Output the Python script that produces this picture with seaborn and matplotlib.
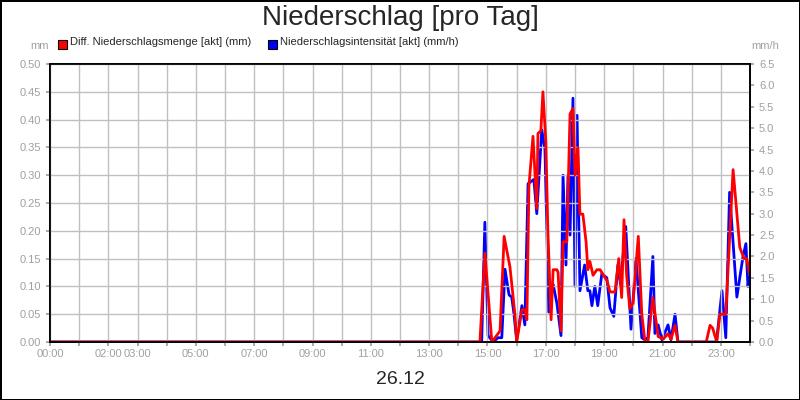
import matplotlib
matplotlib.use("Agg")
import matplotlib.pyplot as plt
import seaborn as sns
import pandas as pd

sns.set_theme(style="white")
plt.rcParams['font.family'] = ['Liberation Sans', 'DejaVu Sans']

red_t = [0, 14.74, 14.91, 15.15, 15.43, 15.57, 15.77, 15.94, 16.0, 16.18, 16.28, 16.35, 16.42, 16.56, 16.69, 16.73,
         16.83, 16.9, 17.0, 17.07, 17.18, 17.25, 17.38, 17.42, 17.52, 17.59, 17.72, 17.83, 17.93, 18.0, 18.1, 18.17,
         18.27, 18.38, 18.44, 18.51, 18.62, 18.75, 18.86, 19.1, 19.2, 19.37, 19.5, 19.6, 19.68, 19.77, 19.88,
         19.99, 20.17, 20.29, 20.4, 20.5, 20.67, 20.85, 21.02, 21.19, 21.29, 21.43, 21.53, 22.5, 22.63, 22.72,
         22.86, 22.97, 23.08, 23.17, 23.42, 23.65, 23.8, 23.89, 23.97]
red_v = [0, 0, 0.16, 0, 0.02, 0.19, 0.135, 0.05, 0.0, 0.058, 0.058, 0.04, 0.28, 0.37, 0.24, 0.375,
         0.38, 0.45, 0.36, 0.2, 0.04, 0.13, 0.13, 0.125, 0.02, 0.18, 0.18, 0.41, 0.42, 0.3, 0.35, 0.23,
         0.23, 0.18, 0.13, 0.145, 0.12, 0.13, 0.13, 0.11, 0.09, 0.09, 0.15, 0.08, 0.22, 0.12, 0.06,
         0.07, 0.19, 0.05, 0.0, 0.0, 0.08, 0.01, 0.005, 0.015, 0.005, 0.03, 0.0, 0.0, 0.03, 0.025,
         0.0, 0.05, 0.05, 0.05, 0.31, 0.17, 0.15, 0.15, 0.125]

blue_t = [0, 14.8, 14.91, 15.02, 15.19, 15.36, 15.49, 15.6, 15.74, 15.83, 15.9, 16.0, 16.18, 16.28, 16.39, 16.59,
          16.69, 16.86, 16.97, 17.1, 17.25, 17.38, 17.52, 17.59, 17.69, 17.76, 17.83, 17.93, 18.0, 18.07, 18.17,
          18.33, 18.44, 18.51, 18.58, 18.68, 18.78, 18.92, 19.09, 19.2, 19.33, 19.47, 19.56, 19.74, 19.92, 20.09,
          20.29, 20.4, 20.5, 20.67, 20.74, 20.85, 20.98, 21.19, 21.29, 21.43, 21.53, 22.85, 23.04, 23.17, 23.3,
          23.55, 23.76, 23.86, 23.93, 23.97]
blue_v = [0, 0, 2.8, 0.15, 0, 0.1, 0.1, 1.7, 1.1, 1.05, 0.7, 0.05, 0.85, 0.4, 3.7, 3.8,
          3.0, 4.96, 4.5, 0.7, 1.35, 0.9, 0.15, 3.9, 1.8, 3.9, 2.5, 5.7, 1.3, 5.3, 1.2,
          1.8, 1.2, 1.2, 0.85, 1.3, 0.85, 1.6, 1.5, 0.8, 0.6, 1.8, 1.35, 2.7, 0.3, 1.95,
          0.1, 0.05, 0.1, 2.0, 0.2, 0.4, 0.05, 0.4, 0.05, 0.65, 0.0, 0.0, 1.2, 0.1, 3.5,
          1.05, 2.0, 2.3, 1.3, 1.5]

tick_hours = [0, 2, 3, 5, 7, 9, 11, 13, 15, 17, 19, 21, 23]
tick_labels = ["00:00", "02:00", "03:00", "05:00", "07:00", "09:00", "11:00", "13:00",
               "15:00", "17:00", "19:00", "21:00", "23:00"]

red = pd.DataFrame({"t": red_t, "v": red_v})
blue = pd.DataFrame({"t": blue_t, "v": blue_v})

fig = plt.figure(figsize=(8, 4), dpi=100)
fig.patch.set_edgecolor("black")
fig.patch.set_linewidth(2)
ax = fig.add_axes([50/800, 58/400, 700/800, 278/400])
ax2 = ax.twinx()

sns.lineplot(data=blue, x="t", y="v", ax=ax2, color="#0000ff", lw=2)
sns.lineplot(data=red, x="t", y="v", ax=ax, color="#ff0000", lw=2)
ax.set_zorder(ax2.get_zorder() + 1)
ax.patch.set_visible(False)

ax.set_xlim(0, 24)
ax.set_ylim(0, 0.5)
ax2.set_ylim(0, 6.5)
ax.set_xticks(range(0, 25))
ax.set_xticklabels([""] * 25)
for h, l in zip(tick_hours, tick_labels):
    ax.text(h, -0.012, l, ha="center", va="top", fontsize=8, color="#a0a0a0",
            transform=ax.get_xaxis_transform() if False else ax.transData)
ax.set_yticks([i * 0.05 for i in range(11)])
ax.set_yticklabels([f"{i*0.05:.2f}" for i in range(11)])
ax2.set_yticks([i * 0.5 for i in range(14)])
ax2.set_yticklabels([f"{i*0.5:.1f}" for i in range(14)])
ax.grid(True, color="#c0c0c0", lw=1)
for a in (ax, ax2):
    a.tick_params(labelsize=8, labelcolor="#a0a0a0", length=3, color="#a0a0a0")
    a.set_xlabel("")
    a.set_ylabel("")
    for s in a.spines.values():
        s.set_color("black")
ax.tick_params(axis="y", left=True)
ax2.tick_params(axis="y", right=True)
ax.tick_params(axis="x", bottom=True)

fig.text(0.5, 0.955, "Niederschlag [pro Tag]", ha="center", va="center", fontsize=20)
fig.text(0.5, 0.052, "26.12", ha="center", va="center", fontsize=14)
fig.text(40/800, 0.878, "mm", ha="center", fontsize=8, color="#a0a0a0")
fig.text(765/800, 0.878, "mm/h", ha="center", fontsize=8, color="#a0a0a0")

fig.patches.append(plt.Rectangle((58/800, 0.878), 9/800, 9/400, transform=fig.transFigure,
                                 facecolor="#ff0000", edgecolor="black", lw=0.8))
fig.text(70/800, 0.882, "Diff. Niederschlagsmenge [akt] (mm)", fontsize=8, va="bottom")
fig.patches.append(plt.Rectangle((268/800, 0.878), 9/800, 9/400, transform=fig.transFigure,
                                 facecolor="#0000ff", edgecolor="black", lw=0.8))
fig.text(280/800, 0.882, "Niederschlagsintensität [akt] (mm/h)", fontsize=8, va="bottom")

fig.savefig("out.png", dpi=100)
